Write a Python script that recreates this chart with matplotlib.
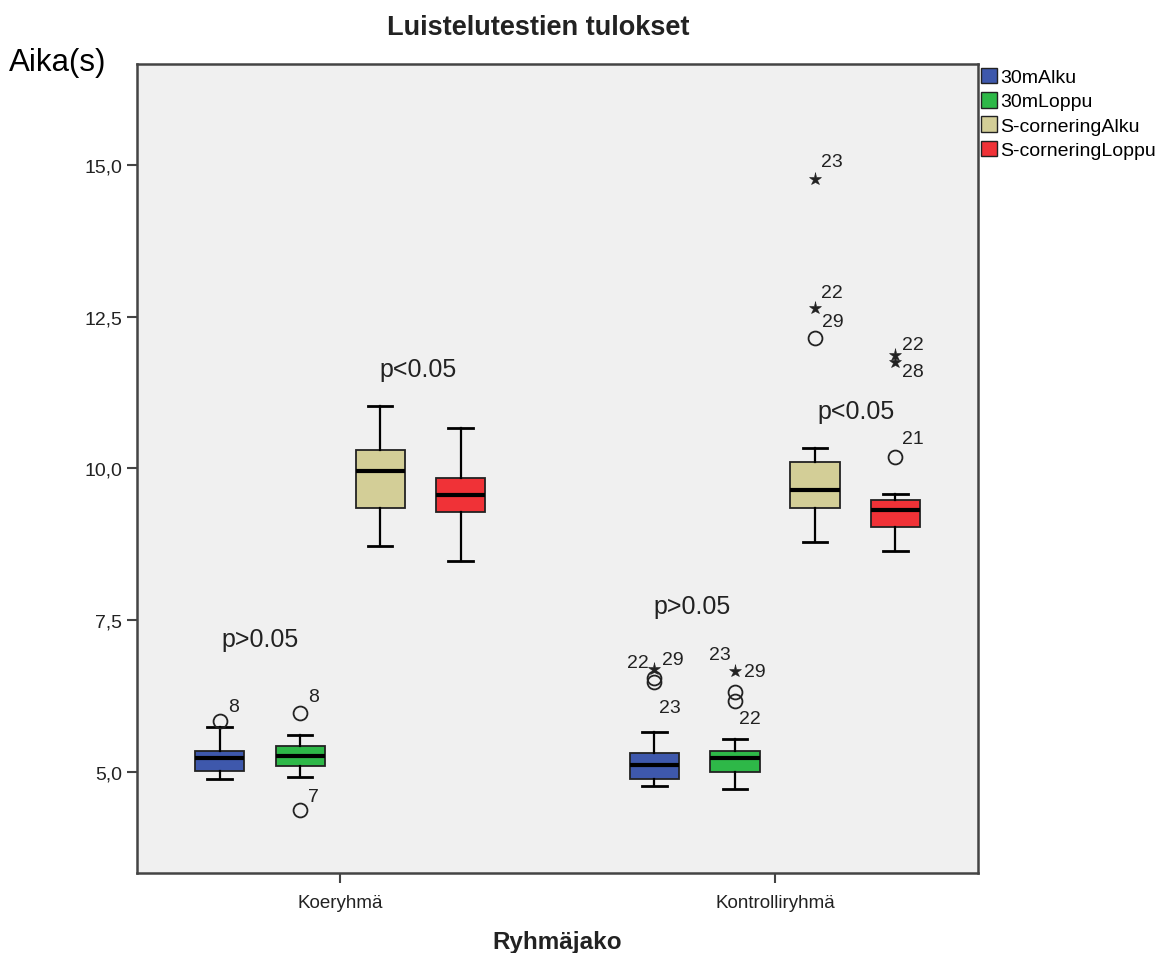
import matplotlib
matplotlib.use("Agg")
import matplotlib.pyplot as plt
from matplotlib.patches import Patch
from matplotlib.ticker import FuncFormatter

plt.rcParams['font.family'] = ['Liberation Sans', 'DejaVu Sans']

groups = ["Koeryhmä", "Kontrolliryhmä"]
series = ["30mAlku", "30mLoppu", "S-corneringAlku", "S-corneringLoppu"]
colors = ["#3e58ac", "#2eb848", "#d3ce97", "#f03237"]

# box statistics, one row per series, columns = groups
medians = [[5.23, 5.12], [5.26, 5.23], [9.96, 9.65], [9.56, 9.32]]
q1 = [[5.02, 4.88], [5.10, 5.00], [9.35, 9.35], [9.28, 9.04]]
q3 = [[5.35, 5.31], [5.43, 5.35], [10.30, 10.11], [9.84, 9.48]]
whis_lo = [[4.88, 4.77], [4.92, 4.72], [8.72, 8.79], [8.48, 8.64]]
whis_hi = [[5.74, 5.66], [5.61, 5.54], [11.03, 10.34], [10.67, 9.58]]

# outliers: (series, group, value, marker)
outliers = [
    (0, 0, 5.84, "o"),
    (1, 0, 5.98, "o"),
    (1, 0, 4.37, "o"),
    (0, 1, 6.55, "o"),
    (0, 1, 6.49, "o"),
    (0, 1, 6.69, "*"),
    (1, 1, 6.66, "*"),
    (1, 1, 6.32, "o"),
    (1, 1, 6.17, "o"),
    (2, 1, 14.77, "*"),
    (2, 1, 12.64, "*"),
    (2, 1, 12.15, "o"),
    (3, 1, 11.87, "*"),
    (3, 1, 11.75, "*"),
    (3, 1, 10.19, "o"),
]
# case labels: (index into outliers, text, dx px, dy px)
case_labels = [
    (0, "8", 14, 15), (1, "8", 13, 16), (2, "7", 13, 14),
    (5, "22", -17, 7), (5, "29", 18, 10), (4, "23", 15, -26),
    (6, "23", -15, 17), (6, "29", 20, 0), (8, "22", 15, -17),
    (9, "23", 17, 17), (10, "22", 17, 16), (10, "29", 18, -13),
    (12, "22", 17, 10), (13, "28", 17, -9), (14, "21", 17, 18),
]

pvalues = ["p>0.05", "p<0.05", "p>0.05", "p<0.05"]
p_pos = [(-0.184, 7.19), (0.179, 11.64), (0.809, 7.73), (1.186, 10.95)]

offsets = [-0.277, -0.092, 0.092, 0.277]
width = 0.113

fig = plt.figure(figsize=(11.65, 9.54), dpi=100)
ax = fig.add_axes([0.1176, 0.0839, 0.7219, 0.848])
ax.set_facecolor("#f0f0f0")

for s in range(len(series)):
    stats = []
    for g in range(len(groups)):
        stats.append(dict(med=medians[s][g], q1=q1[s][g], q3=q3[s][g],
                          whislo=whis_lo[s][g], whishi=whis_hi[s][g], fliers=[]))
    pos = [g + offsets[s] for g in range(len(groups))]
    ax.bxp(stats, positions=pos, widths=width, capwidths=width * 0.5,
           patch_artist=True, showfliers=False, manage_ticks=False,
           boxprops=dict(facecolor=colors[s], edgecolor="#222222", linewidth=1.3),
           medianprops=dict(color="black", linewidth=3),
           whiskerprops=dict(color="black", linewidth=1.6),
           capprops=dict(color="black", linewidth=2))

pts = []
for s, g, v, m in outliers:
    x = g + offsets[s]
    pts.append((x, v))
    if m == "o":
        ax.plot(x, v, marker="o", ms=10, mfc="none", mec="#222222", mew=1.3, ls="none")
    else:
        ax.plot(x, v, marker="*", ms=9.5, mfc="#222222", mec="#222222", mew=0.4, ls="none")

for i, txt, dx, dy in case_labels:
    ax.annotate(txt, pts[i], xytext=(dx, dy), textcoords="offset pixels",
                ha="center", va="center", fontsize=14, color="#222222")

for txt, (x, y) in zip(pvalues, p_pos):
    ax.text(x, y, txt, ha="center", va="center", fontsize=18, color="#222222")

ax.set_xlim(-0.467, 1.467)
ax.set_ylim(3.34, 16.66)
ax.set_xticks(range(len(groups)))
ax.set_xticklabels(groups, fontsize=13.5, color="#222222")
ax.set_yticks([5, 7.5, 10, 12.5, 15])
ax.yaxis.set_major_formatter(FuncFormatter(lambda v, p: f"{v:.1f}".replace(".", ",")))
ax.tick_params(axis="y", labelsize=14, labelcolor="#222222", length=7, width=1.5, color="#444444")
ax.tick_params(axis="x", length=7, width=1.5, color="#444444", pad=8)
for sp in ax.spines.values():
    sp.set_color("#444444")
    sp.set_linewidth(1.8)

ax.set_xlabel("Ryhmäjako", fontsize=17.5, fontweight="bold", labelpad=14, color="#222222")
fig.text(0.462, 0.971, "Luistelutestien tulokset", ha="center", va="center",
         fontsize=19.5, fontweight="bold", color="#222222")
fig.text(0.008, 0.934, "Aika(s)", ha="left", va="center", fontsize=22.5, color="black")

handles = [Patch(facecolor=c, edgecolor="#222222", linewidth=1) for c in colors]
fig.legend(handles, series, loc="upper left", bbox_to_anchor=(0.842, 0.928),
           frameon=False, fontsize=14, handlelength=0.85, handleheight=0.85,
           handletextpad=0.15, labelspacing=0.3, borderpad=0, borderaxespad=0)

fig.savefig("out.png", dpi=100)
